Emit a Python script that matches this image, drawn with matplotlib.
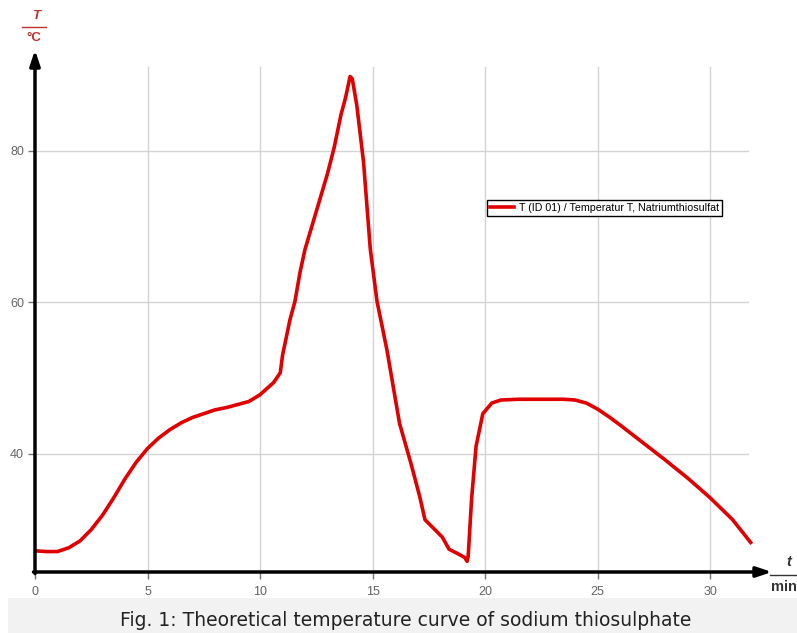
import matplotlib
matplotlib.use("Agg")
import matplotlib.pyplot as plt
from matplotlib.patches import Rectangle

# time in minutes and temperature in degC
t_min = [0, 0.5, 1.0, 1.5, 2, 2.5, 3, 3.5, 4, 4.5, 5, 5.5, 6, 6.5, 7, 7.5, 8, 8.5, 9, 9.5,
         10, 10.6, 10.9, 11.0, 11.33, 11.55, 11.78, 12.0, 12.5, 13, 13.3, 13.6, 13.8, 14.0,
         14.1, 14.3, 14.6, 14.9, 15.2, 15.64, 16.2, 16.7, 17.1, 17.33, 17.7, 18.1, 18.4,
         18.8, 19.1, 19.2, 19.25, 19.4, 19.6, 19.9, 20.3, 20.7, 21.5, 22.5, 23.5, 24, 24.5,
         25, 25.5, 26, 27, 28, 29, 30, 31, 31.8]
temp = [27.2, 27.1, 27.1, 27.6, 28.5, 30.0, 31.9, 34.2, 36.7, 38.9, 40.7, 42.1, 43.2, 44.1,
        44.8, 45.3, 45.8, 46.1, 46.5, 46.9, 47.8, 49.4, 50.7, 53.0, 57.7, 60.1, 64.0, 67.0,
        72.0, 77.0, 80.5, 84.8, 87.0, 89.8, 89.5, 86.0, 78.5, 67.0, 60.1, 53.7, 44.0, 38.8,
        34.3, 31.3, 30.2, 29.0, 27.4, 26.8, 26.3, 25.8, 26.5, 34.0, 41.0, 45.3, 46.7, 47.1,
        47.2, 47.2, 47.2, 47.1, 46.7, 45.9, 44.9, 43.8, 41.5, 39.2, 36.8, 34.2, 31.3, 28.3]

x_ticks = [0, 5, 10, 15, 20, 25, 30]
y_ticks = [40, 60, 80]
legend_label = "T (ID 01) / Temperatur T, Natriumthiosulfat"
caption = "Fig. 1: Theoretical temperature curve of sodium thiosulphate"

W, H = 797, 633
fig = plt.figure(figsize=(W / 100, H / 100), dpi=100)
fig.patch.set_facecolor("white")

# axes box in pixels: x 35..772, y 50..572
ax = fig.add_axes([35 / W, (H - 572) / H, (772 - 35) / W, (572 - 50) / H])
ax.set_xlim(0, 32.75)
ax.set_ylim(24.4, 93.3)
for s in ax.spines.values():
    s.set_visible(False)

# grid
for xt in x_ticks[1:]:
    ax.plot([xt, xt], [24.4, 91.0], color="#d4d4d4", lw=1, zorder=0)
for yt in y_ticks:
    ax.plot([0, 31.7], [yt, yt], color="#d4d4d4", lw=1, zorder=0)

ax.plot(t_min, temp, color="#e00000", lw=2.6, label=legend_label, zorder=3,
        solid_joinstyle="round")

# axes arrows
ax.annotate("", xy=(1.0, 0), xytext=(-0.002, 0), xycoords="axes fraction",
            arrowprops=dict(arrowstyle="-|>,head_length=0.9,head_width=0.3", lw=2.5, color="black",
                            shrinkA=0, shrinkB=0))
ax.annotate("", xy=(0, 1.0), xytext=(0, -0.003), xycoords="axes fraction",
            arrowprops=dict(arrowstyle="-|>,head_length=0.9,head_width=0.3", lw=2.5, color="black",
                            shrinkA=0, shrinkB=0))

ax.set_xticks(x_ticks)
ax.set_yticks(y_ticks)
ax.tick_params(axis="both", length=5, width=1, color="#777777", labelcolor="#666666",
               labelsize=9)
ax.tick_params(axis="x", pad=5)
ax.tick_params(axis="y", pad=3)
for lab in ax.get_xticklabels() + ax.get_yticklabels():
    lab.set_family("Liberation Sans")

# axis unit labels
fig.text(36 / W, 1 - 16 / H, "T", color="#c03030", fontsize=9.5, style="italic",
         weight="bold", ha="center", va="center", family="Liberation Sans")
fig.add_artist(plt.Line2D([22 / W, 46 / W], [1 - 27 / H, 1 - 27 / H], color="#c03030", lw=1))
fig.text(34 / W, 1 - 38 / H, "°C", color="#c03030", fontsize=9.5, weight="bold",
         ha="center", va="center", family="Liberation Sans")

fig.text(789 / W, 1 - 562 / H, "t", color="#333333", fontsize=10.5, style="italic",
         weight="bold", ha="center", va="center", family="Liberation Sans")
fig.add_artist(plt.Line2D([770 / W, 1.0], [1 - 575 / H, 1 - 575 / H], color="#333333", lw=1))
fig.text(771 / W, 1 - 587 / H, "min", color="#333333", fontsize=10.5, weight="bold",
         ha="left", va="center", family="Liberation Sans")

leg = ax.legend(loc="upper left", bbox_to_anchor=(0.613, 0.713),
                prop={"family": "Liberation Sans", "size": 7.7}, fancybox=False,
                edgecolor="black", framealpha=1, borderpad=0.3, handlelength=2.2,
                handletextpad=0.5, borderaxespad=0)
leg.get_frame().set_linewidth(1)

# caption band
fig.add_artist(Rectangle((8 / W, 0), 1 - 8 / W, (H - 598) / H, transform=fig.transFigure,
                         facecolor="#f2f2f2", edgecolor="none", zorder=0))
fig.text(406 / W, 1 - 620 / H, caption, fontsize=13.5, color="#222222",
         ha="center", va="center", family="DejaVu Sans")

fig.savefig("out.png", dpi=100)
